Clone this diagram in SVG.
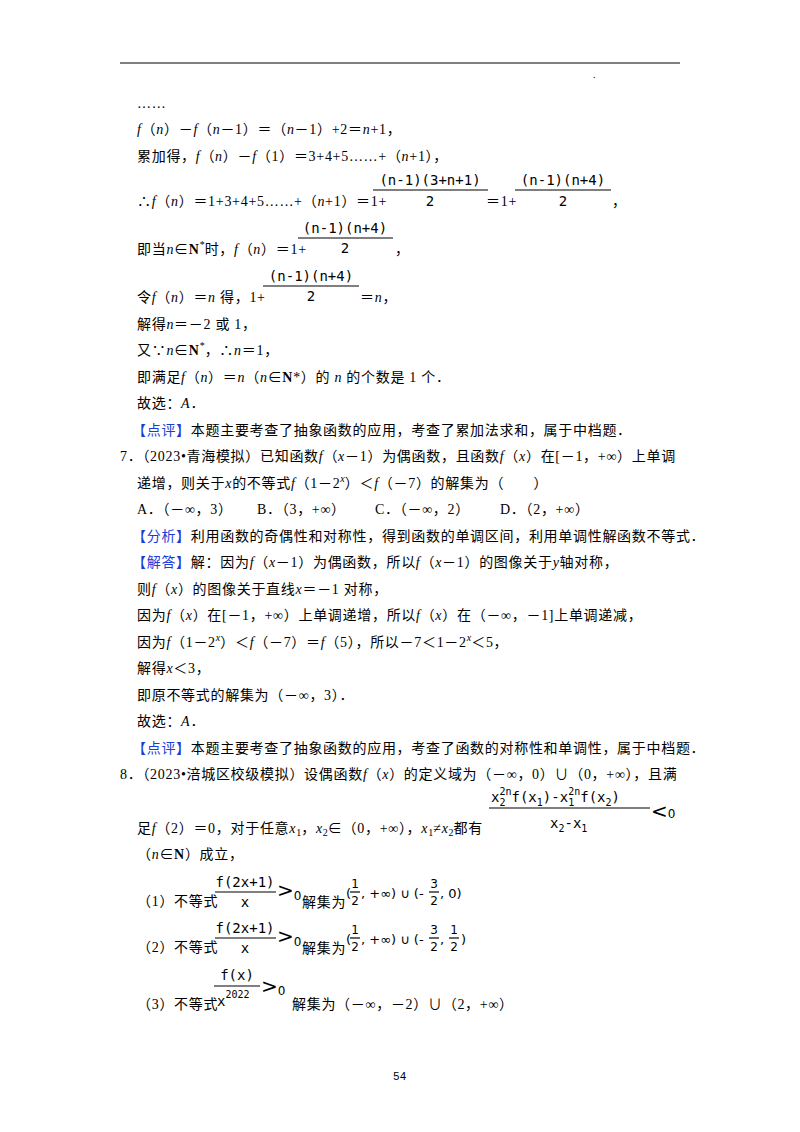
<svg xmlns="http://www.w3.org/2000/svg" width="800" height="1132" viewBox="0 0 800 1132">
<style>
text{font-family:"Liberation Serif","Noto Sans CJK SC",serif;font-size:14px;fill:#000;letter-spacing:0.7px}
.m{font-family:"DejaVu Sans Mono","Liberation Mono",monospace;font-size:14px;letter-spacing:0}
.s{font-size:10px;letter-spacing:0}
.b{fill:#1a3cd8}
.d{font-family:"DejaVu Sans",sans-serif;font-size:13px;letter-spacing:0}
.f{font-family:"DejaVu Sans",sans-serif;font-size:12px;letter-spacing:0}
.g{font-family:"DejaVu Sans",sans-serif;font-size:20px;letter-spacing:0}
.p{font-family:"Liberation Sans",sans-serif;font-size:11px}
line{stroke:#000;stroke-width:1.2}
</style>
<rect width="800" height="1132" fill="#fff"/>
<line x1="120" y1="63" x2="680" y2="63" stroke-width="1.5"/>
<text x="593" y="78" class="s">.</text>
<text x="137" y="108">……</text>
<text x="137" y="134"><tspan font-style="italic">f</tspan>（<tspan font-style="italic">n</tspan>）－<tspan font-style="italic">f</tspan>（<tspan font-style="italic">n</tspan>－1）＝（<tspan font-style="italic">n</tspan>－1）+2＝<tspan font-style="italic">n</tspan>+1，</text>
<text x="137" y="161">累加得，<tspan font-style="italic">f</tspan>（<tspan font-style="italic">n</tspan>）－<tspan font-style="italic">f</tspan>（1）＝3+4+5……+（<tspan font-style="italic">n</tspan>+1），</text>
<text x="137" y="206">∴<tspan font-style="italic">f</tspan>（<tspan font-style="italic">n</tspan>）＝1+3+4+5……+（<tspan font-style="italic">n</tspan>+1）＝1+</text>
<text x="430" y="185" class="m" text-anchor="middle">(n-1)(3+n+1)</text>
<line x1="373" y1="190" x2="488" y2="190"/>
<text x="430" y="206" class="m" text-anchor="middle">2</text>
<text x="486" y="206">＝1+</text>
<text x="563" y="185" class="m" text-anchor="middle">(n-1)(n+4)</text>
<line x1="515" y1="190" x2="611" y2="190"/>
<text x="563" y="206" class="m" text-anchor="middle">2</text>
<text x="612" y="206">，</text>
<text x="137" y="254">即当<tspan font-style="italic">n</tspan>∈<tspan font-weight="bold">N</tspan><tspan class="s" dy="-6">*</tspan><tspan dy="6">时，</tspan><tspan font-style="italic">f</tspan>（<tspan font-style="italic">n</tspan>）＝1+</text>
<text x="345" y="233" class="m" text-anchor="middle">(n-1)(n+4)</text>
<line x1="298" y1="238" x2="393" y2="238"/>
<text x="345" y="253" class="m" text-anchor="middle">2</text>
<text x="395" y="254">，</text>
<text x="137" y="302">令<tspan font-style="italic">f</tspan>（<tspan font-style="italic">n</tspan>）＝<tspan font-style="italic">n</tspan> 得，1+</text>
<text x="311" y="281" class="m" text-anchor="middle">(n-1)(n+4)</text>
<line x1="263" y1="286" x2="359" y2="286"/>
<text x="311" y="301" class="m" text-anchor="middle">2</text>
<text x="360" y="302">＝<tspan font-style="italic">n</tspan>，</text>
<text x="137" y="329">解得<tspan font-style="italic">n</tspan>＝－2 或 1，</text>
<text x="137" y="355">又∵<tspan font-style="italic">n</tspan>∈<tspan font-weight="bold">N</tspan><tspan class="s" dy="-6">*</tspan><tspan dy="6">，∴</tspan><tspan font-style="italic">n</tspan>＝1，</text>
<text x="137" y="382">即满足<tspan font-style="italic">f</tspan>（<tspan font-style="italic">n</tspan>）＝<tspan font-style="italic">n</tspan>（<tspan font-style="italic">n</tspan>∈<tspan font-weight="bold">N</tspan>*）的 <tspan font-style="italic">n</tspan> 的个数是 1 个．</text>
<text x="137" y="408">故选：<tspan font-style="italic">A</tspan>．</text>
<text x="132" y="435"><tspan class="b">【点评】</tspan>本题主要考查了抽象函数的应用，考查了累加法求和，属于中档题．</text>
<text x="120" y="461">7．（2023•青海模拟）已知函数<tspan font-style="italic">f</tspan>（<tspan font-style="italic">x</tspan>－1）为偶函数，且函数<tspan font-style="italic">f</tspan>（<tspan font-style="italic">x</tspan>）在[－1，+∞）上单调</text>
<text x="137" y="488">递增，则关于<tspan font-style="italic">x</tspan>的不等式<tspan font-style="italic">f</tspan>（1－2<tspan class="s" dy="-6" font-style="italic">x</tspan><tspan dy="6">）＜</tspan><tspan font-style="italic">f</tspan>（－7）的解集为（　　）</text>
<text x="137" y="514">A．（－∞，3）</text>
<text x="257" y="514">B．（3，+∞）</text>
<text x="375" y="514">C．（－∞，2）</text>
<text x="500" y="514">D．（2，+∞）</text>
<text x="132" y="541"><tspan class="b">【分析】</tspan>利用函数的奇偶性和对称性，得到函数的单调区间，利用单调性解函数不等式．</text>
<text x="132" y="567"><tspan class="b">【解答】</tspan>解：因为<tspan font-style="italic">f</tspan>（<tspan font-style="italic">x</tspan>－1）为偶函数，所以<tspan font-style="italic">f</tspan>（<tspan font-style="italic">x</tspan>－1）的图像关于<tspan font-style="italic">y</tspan>轴对称，</text>
<text x="137" y="594">则<tspan font-style="italic">f</tspan>（<tspan font-style="italic">x</tspan>）的图像关于直线<tspan font-style="italic">x</tspan>＝－1 对称，</text>
<text x="137" y="620">因为<tspan font-style="italic">f</tspan>（<tspan font-style="italic">x</tspan>）在[－1，+∞）上单调递增，所以<tspan font-style="italic">f</tspan>（<tspan font-style="italic">x</tspan>）在（－∞，－1]上单调递减，</text>
<text x="137" y="647">因为<tspan font-style="italic">f</tspan>（1－2<tspan class="s" dy="-6" font-style="italic">x</tspan><tspan dy="6">）＜</tspan><tspan font-style="italic">f</tspan>（－7）＝<tspan font-style="italic">f</tspan>（5），所以－7＜1－2<tspan class="s" dy="-6" font-style="italic">x</tspan><tspan dy="6">＜5，</tspan></text>
<text x="137" y="673">解得<tspan font-style="italic">x</tspan>＜3，</text>
<text x="137" y="700">即原不等式的解集为（－∞，3）．</text>
<text x="137" y="726">故选：<tspan font-style="italic">A</tspan>．</text>
<text x="132" y="753"><tspan class="b">【点评】</tspan>本题主要考查了抽象函数的应用，考查了函数的对称性和单调性，属于中档题．</text>
<text x="120" y="779">8．（2023•涪城区校级模拟）设偶函数<tspan font-style="italic">f</tspan>（<tspan font-style="italic">x</tspan>）的定义域为（－∞，0）∪（0，+∞），且满</text>
<text x="491" y="802" class="m">x<tspan class="s" dy="4">2</tspan><tspan class="s" dx="-6" dy="-11">2n</tspan><tspan dy="7">f(x</tspan><tspan class="s" dy="4">1</tspan><tspan dy="-4">)-x</tspan><tspan class="s" dy="4">1</tspan><tspan class="s" dx="-6" dy="-11">2n</tspan><tspan dy="7">f(x</tspan><tspan class="s" dy="4">2</tspan><tspan dy="-4">)</tspan></text>
<line x1="489" y1="808" x2="650" y2="808"/>
<text x="550" y="828" class="m">x<tspan class="s" dy="4">2</tspan><tspan dy="-4">-x</tspan><tspan class="s" dy="4">1</tspan></text>
<text x="651" y="818" class="g">&lt;<tspan class="f">0</tspan></text>
<text x="137" y="833">足<tspan font-style="italic">f</tspan>（2）＝0，对于任意<tspan font-style="italic">x</tspan><tspan class="s" dy="3">1</tspan><tspan dy="-3">，</tspan><tspan font-style="italic">x</tspan><tspan class="s" dy="3">2</tspan><tspan dy="-3">∈（0，+∞），</tspan><tspan font-style="italic">x</tspan><tspan class="s" dy="3">1</tspan><tspan dy="-3">≠</tspan><tspan font-style="italic">x</tspan><tspan class="s" dy="3">2</tspan><tspan dy="-3">都有</tspan></text>
<text x="137" y="859">（<tspan font-style="italic">n</tspan>∈<tspan font-weight="bold">N</tspan>）成立，</text>
<g id="q1">
<text x="137" y="906">（1）不等式</text>
<text x="245" y="887" class="m" text-anchor="middle">f(2x+1)</text>
<line x1="215" y1="892" x2="276" y2="892"/>
<text x="245" y="907" class="m" text-anchor="middle">x</text>
<text x="277" y="897" class="g">&gt;<tspan class="f" dy="3">0</tspan></text>
<text x="302" y="907">解集为</text>
<text x="346" y="898" class="d">(</text>
<text x="355" y="888" class="f" text-anchor="middle">1</text>
<line x1="350" y1="892" x2="360" y2="892"/>
<text x="355" y="905" class="f" text-anchor="middle">2</text>
<text x="361" y="898" class="d">,  +∞) ∪ (-</text>
<text x="434" y="888" class="f" text-anchor="middle">3</text>
<line x1="429" y1="892" x2="439" y2="892"/>
<text x="434" y="905" class="f" text-anchor="middle">2</text>
<text x="440" y="898" class="d">,  0)</text>
</g>
<g id="q2">
<text x="137" y="952">（2）不等式</text>
<text x="245" y="933" class="m" text-anchor="middle">f(2x+1)</text>
<line x1="215" y1="938" x2="276" y2="938"/>
<text x="245" y="953" class="m" text-anchor="middle">x</text>
<text x="277" y="943" class="g">&gt;<tspan class="f" dy="3">0</tspan></text>
<text x="302" y="953">解集为</text>
<text x="346" y="944" class="d">(</text>
<text x="355" y="934" class="f" text-anchor="middle">1</text>
<line x1="350" y1="938" x2="360" y2="938"/>
<text x="355" y="951" class="f" text-anchor="middle">2</text>
<text x="361" y="944" class="d">,  +∞) ∪ (-</text>
<text x="434" y="934" class="f" text-anchor="middle">3</text>
<line x1="429" y1="938" x2="439" y2="938"/>
<text x="434" y="951" class="f" text-anchor="middle">2</text>
<text x="440" y="944" class="d">,</text>
<text x="454" y="934" class="f" text-anchor="middle">1</text>
<line x1="449" y1="938" x2="459" y2="938"/>
<text x="454" y="951" class="f" text-anchor="middle">2</text>
<text x="461" y="944" class="d">)</text>
</g>
<g id="q3">
<text x="137" y="1009">（3）不等式</text>
<text x="237" y="980" class="m" text-anchor="middle">f(x)</text>
<line x1="214" y1="986" x2="260" y2="986"/>
<text x="217" y="1006" class="m">x<tspan class="s" dy="-8">2022</tspan></text>
<text x="261" y="993" class="g">&gt;<tspan class="f" dy="2">0</tspan></text>
<text x="292" y="1009">解集为（－∞，－2）∪（2，+∞）</text>
</g>
<text x="400" y="1080" text-anchor="middle" class="p">54</text>
</svg>
